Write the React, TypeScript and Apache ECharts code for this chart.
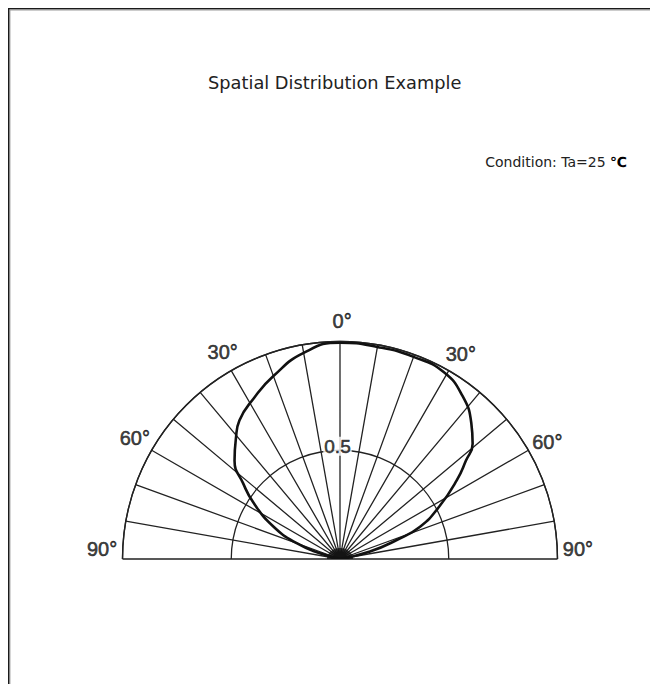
import React, { useEffect, useRef } from "react";
import * as echarts from "echarts";

const chartTitle = "Spatial Distribution Example";
const conditionText = "Condition: Ta=25 ";
const unitText = "℃";

// Relative intensity curve: angle (deg, 0 = top) and relative value
const curveAngles = [-78, -74, -70, -64, -57, -52, -47, -41, -36, -28, -20, -10, 0, 10, 20, 29, 37, 44, 49, 52, 56, 62, 68, 71.5, 76, 78];
const curveValues = [0, 0.096, 0.212, 0.341, 0.474, 0.565, 0.663, 0.73, 0.787, 0.84, 0.895, 0.962, 0.995, 0.99, 0.989, 0.983, 0.937, 0.869, 0.808, 0.735, 0.648, 0.519, 0.397, 0.275, 0.142, 0];

// Tick labels
const tickAngles = [-90, -60, -30, 0, 30, 60, 90];
const tickLabels = ["90°", "60°", "30°", "0°", "30°", "60°", "90°"];
const radiusTicks = [0.5];
const radiusLabels = ["0.5"];

export default function App() {
  const ref = useRef<HTMLDivElement>(null);
  useEffect(() => {
    const chart = echarts.init(ref.current!, null, { renderer: "svg" });
    const LABEL_R = 1.095;
    const labelData = tickAngles.map((a, i) => ({
      name: tickLabels[i],
      value: [LABEL_R, Math.abs(a) === 90 ? Math.sign(a) * 87.5 : a + 0.5],
    }));
    const curveData = curveAngles.map((a, i) => [curveValues[i], a]);
    const radiusLabelData = radiusTicks.map((r, i) => ({ name: radiusLabels[i], value: [r, 0] }));

    const labelText = {
      fontFamily: "Liberation Sans",
      color: "#111",
      textBorderWidth: 0.6,
      textBorderColor: "#111",
      textShadowBlur: 0,
    };

    chart.setOption({
      animation: false,
      backgroundColor: "#ffffff",
      title: [
        {
          text: chartTitle,
          left: 208,
          top: 73,
          padding: 0,
          textStyle: { fontFamily: "DejaVu Sans", fontSize: 17.8, fontWeight: "normal", color: "#222" },
        },
        {
          text: `{a|${conditionText}}{b|${unitText}}`,
          right: 23,
          top: 155,
          padding: 0,
          textStyle: {
            fontWeight: "normal",
            rich: {
              a: { fontFamily: "DejaVu Sans", fontSize: 14, fontWeight: "normal", color: "#222" },
              b: { fontFamily: "DejaVu Sans", fontSize: 14, fontWeight: "bold", color: "#000" },
            },
          },
        },
      ],
      graphic: [
        { type: "rect", shape: { x: 8, y: 8, width: 642, height: 1.6 }, style: { fill: "#1a1a1a" }, silent: true },
        { type: "rect", shape: { x: 8, y: 8, width: 1.6, height: 676 }, style: { fill: "#1a1a1a" }, silent: true },
        { type: "rect", shape: { x: 9.6, y: 9.6, width: 640.4, height: 0.8 }, style: { fill: "#999" }, silent: true },
        { type: "rect", shape: { x: 9.6, y: 9.6, width: 0.8, height: 674.4 }, style: { fill: "#999" }, silent: true },
      ],
      polar: { center: [340, 559], radius: 217.5 },
      angleAxis: {
        type: "value",
        min: -90,
        max: 90,
        interval: 10,
        startAngle: 180,
        endAngle: 0,
        clockwise: true,
        axisLine: { show: true, lineStyle: { color: "#222", width: 1.4 } },
        axisTick: { show: false },
        axisLabel: { show: false },
        splitLine: { show: true, lineStyle: { color: "#222", width: 1.3 } },
      },
      radiusAxis: {
        type: "value",
        min: 0,
        max: 1,
        interval: 0.5,
        axisLine: { show: false },
        axisTick: { show: false },
        axisLabel: { show: false },
        splitLine: { show: true, lineStyle: { color: "#222", width: 1.3 } },
      },
      series: [
        {
          type: "scatter",
          coordinateSystem: "polar",
          clip: false,
          silent: true,
          symbol: "path://M0,10 A13,10 0 0 1 26,10 Z",
          symbolSize: [26, 11],
          symbolOffset: [0, "-50%"],
          itemStyle: { color: "#111" },
          data: [[0, 0]],
          z: 3,
        },
        {
          type: "line",
          coordinateSystem: "polar",
          clip: false,
          silent: true,
          smooth: 0.5,
          showSymbol: false,
          symbol: "none",
          lineStyle: { color: "#111", width: 2.6 },
          data: curveData,
          z: 4,
        },
        {
          type: "scatter",
          coordinateSystem: "polar",
          clip: false,
          silent: true,
          symbolSize: 1,
          itemStyle: { color: "rgba(0,0,0,0)" },
          label: {
            show: true,
            position: "inside",
            formatter: "{b}",
            fontSize: 20,
            ...labelText,
          },
          data: labelData,
          z: 5,
        },
        {
          type: "scatter",
          coordinateSystem: "polar",
          clip: false,
          silent: true,
          symbolSize: 1,
          itemStyle: { color: "rgba(0,0,0,0)" },
          label: {
            show: true,
            position: "inside",
            offset: [-2.5, -4],
            formatter: "{b}",
            fontSize: 19,
            ...labelText,
            backgroundColor: "#ffffff",
            padding: [0, 1],
          },
          data: radiusLabelData,
          z: 6,
        },
      ],
    });
    return () => chart.dispose();
  }, []);
  return <div ref={ref} style={{ position: "absolute", left: 0, top: 0, width: 650, height: 684 }} />;
}
